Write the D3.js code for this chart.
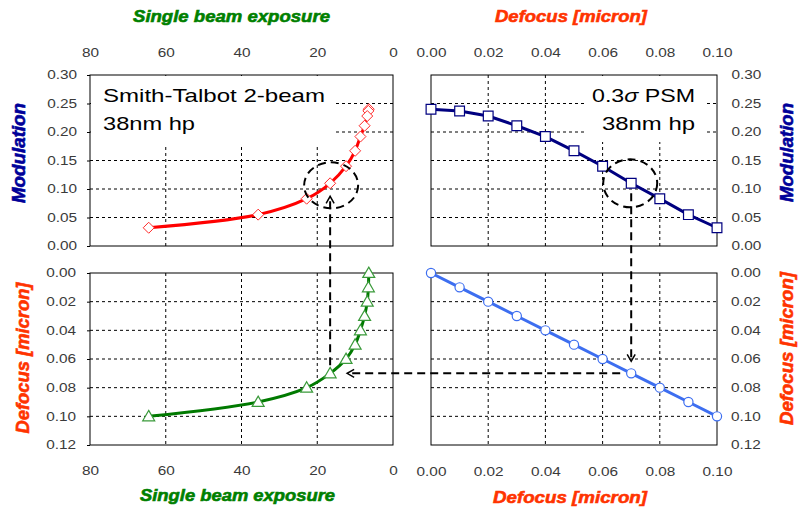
<!DOCTYPE html>
<html>
<head>
<meta charset="utf-8">
<script src="https://cdn.jsdelivr.net/npm/d3@7"></script>
<style>
  body { margin: 0; background: #fff; }
  svg text { font-family: Arial, "Liberation Sans", sans-serif; }
  .tick text { fill: #3a3a3a; font-size: 12px; }
  .tick line { stroke: #000; }
  .grid line { stroke: #000; stroke-width: 1; stroke-dasharray: 3,3; }
  .frame { fill: none; stroke: #000; stroke-width: 1; }
  .title { font-weight: bold; font-style: italic; font-size: 17px; stroke-width: 0.6; }
  .vtitle { font-weight: bold; font-style: italic; font-size: 18px; stroke-width: 0.6; }
  .anno { font-size: 18.5px; fill: #000; }
  .guide { fill: none; stroke: #000; stroke-width: 2; stroke-dasharray: 8,5; }
</style>
</head>
<body>
<svg id="chart" width="798" height="510"></svg>
<script>
// data: one row per defocus step
const defocus = [0, 0.01, 0.02, 0.03, 0.04, 0.05, 0.06, 0.07, 0.08, 0.09, 0.10];
const modulation = [0.240, 0.237, 0.228, 0.211, 0.192, 0.167, 0.140, 0.110, 0.083, 0.055, 0.032];
const exposure = [6.4, 6.5, 6.8, 7.5, 8.6, 10.0, 12.4, 16.6, 22.8, 35.6, 64.5];

const exposureTicks = [80, 60, 40, 20, 0];
const defocusXTicks = [0, 0.02, 0.04, 0.06, 0.08, 0.10];
const defocusYTicks = [0, 0.02, 0.04, 0.06, 0.08, 0.10, 0.12];
const modulationTicks = [0, 0.05, 0.10, 0.15, 0.20, 0.25, 0.30];

const marked = 7; // the 0.07 micron point that the arrows follow

const rows = defocus.map((d, i) => ({def: d, mod: modulation[i], exp: exposure[i]}));

const SX = 1.28; // the source picture is stretched sideways
const svg = d3.select("#chart");

const xExp = d3.scaleLinear().domain([80, 0]).range([90, 393]);
const xDef = d3.scaleLinear().domain([0, 0.1]).range([431, 717]);
const yMod = d3.scaleLinear().domain([0, 0.3]).range([246, 75]);
const yDef = d3.scaleLinear().domain([0, 0.12]).range([273, 445]);

const f2 = d3.format(".2f");

function grid(xs, ys, xVals, yVals) {
  const g = svg.append("g").attr("class", "grid");
  const [x0, x1] = xs.range();
  const [y0, y1] = ys.range();
  g.selectAll(".v").data(xVals).join("line")
    .attr("x1", d => xs(d)).attr("x2", d => xs(d))
    .attr("y1", y0).attr("y2", y1);
  g.selectAll(".h").data(yVals).join("line")
    .attr("x1", x0).attr("x2", x1)
    .attr("y1", d => ys(d)).attr("y2", d => ys(d));
}

function frame(xs, ys) {
  const [x0, x1] = xs.range();
  const [ya, yb] = ys.range();
  svg.append("rect").attr("class", "frame")
    .attr("x", Math.min(x0, x1)).attr("y", Math.min(ya, yb))
    .attr("width", Math.abs(x1 - x0)).attr("height", Math.abs(yb - ya));
}

function axis(ax, tx, ty, dx) {
  const g = svg.append("g").attr("transform", `translate(${tx},${ty})`).call(ax);
  g.select(".domain").remove();
  g.selectAll(".tick text")
    .attr("x", 0)
    .attr("transform", `translate(${dx},0) scale(${SX},1)`);
  return g;
}

function title(x, y, str, len, color) {
  svg.append("text").attr("class", "title")
    .attr("x", x).attr("y", y)
    .attr("text-anchor", "middle")
    .attr("textLength", len).attr("lengthAdjust", "spacingAndGlyphs")
    .attr("fill", color).attr("stroke", color).text(str);
}

function vtitle(x, y, str, len, color) {
  svg.append("text").attr("class", "vtitle")
    .attr("transform", `translate(${x},${y}) rotate(-90)`)
    .attr("text-anchor", "middle")
    .attr("textLength", len).attr("lengthAdjust", "spacingAndGlyphs")
    .attr("fill", color).attr("stroke", color).text(str);
}

function anno(x, y, str, len) {
  return svg.append("text").attr("class", "anno")
    .attr("x", x).attr("y", y)
    .attr("textLength", len).attr("lengthAdjust", "spacingAndGlyphs")
    .text(str);
}

// gridlines
grid(xExp, yMod, [60, 40, 20], [0.05, 0.10, 0.15, 0.20, 0.25]);
grid(xDef, yMod, [0.02, 0.04, 0.06, 0.08], [0.05, 0.10, 0.15, 0.20, 0.25]);
grid(xExp, yDef, [60, 40, 20], [0.02, 0.04, 0.06, 0.08, 0.10]);
grid(xDef, yDef, [0.02, 0.04, 0.06, 0.08], [0.02, 0.04, 0.06, 0.08, 0.10]);

// white boxes behind the two labels
svg.append("rect").attr("x", 91).attr("y", 76).attr("width", 244).attr("height", 71).attr("fill", "#fff");
svg.append("rect").attr("x", 587).attr("y", 76).attr("width", 120).attr("height", 66).attr("fill", "#fff");

frame(xExp, yMod);
frame(xDef, yMod);
frame(xExp, yDef);
frame(xDef, yDef);

// axes
axis(d3.axisTop(xExp).tickValues(exposureTicks).tickFormat(d3.format("d")).tickSize(0).tickPadding(18.5), 0, 75, 0);
axis(d3.axisTop(xDef).tickValues(defocusXTicks).tickFormat(f2).tickSize(0).tickPadding(18.5), 0, 75, 0);
axis(d3.axisBottom(xExp).tickValues(exposureTicks).tickFormat(d3.format("d")).tickSize(0).tickPadding(21.5), 0, 445, 0);
axis(d3.axisBottom(xDef).tickValues(defocusXTicks).tickFormat(f2).tickSize(0).tickPadding(21.5), 0, 446, 0);
axis(d3.axisLeft(yMod).tickValues(modulationTicks).tickFormat(f2).tickSize(3), 90, 0, -13);
axis(d3.axisRight(yMod).tickValues(modulationTicks).tickFormat(f2).tickSize(0), 717, 0, 14.5);
axis(d3.axisLeft(yDef).tickValues(defocusYTicks).tickFormat(f2).tickSize(3), 90, 0, -14);
axis(d3.axisRight(yDef).tickValues(defocusYTicks).tickFormat(f2).tickSize(0), 717, 0, 14);

// titles
title(231.5, 21.5, "Single beam exposure", 197, "#008000");
title(571, 21.5, "Defocus [micron]", 152, "#ff3300");
title(237.5, 501, "Single beam exposure", 195, "#008000");
title(570, 503, "Defocus [micron]", 154, "#ff3300");
vtitle(25, 153, "Modulation", 100, "#000099");
vtitle(793, 152.5, "Modulation", 99, "#000099");
vtitle(28.5, 358, "Defocus [micron]", 151, "#ff3300");
vtitle(793, 348.5, "Defocus [micron]", 153, "#ff3300");

// series lines
const smooth = d3.curveCatmullRom;
function series(xf, yf, color, curve) {
  svg.append("path").datum(rows)
    .attr("fill", "none").attr("stroke", color).attr("stroke-width", 3)
    .attr("stroke-linejoin", "round")
    .attr("d", d3.line().x(xf).y(yf).curve(curve));
}
series(d => xExp(d.exp), d => yMod(d.mod), "#ff0000", smooth);
series(d => xDef(d.def), d => yMod(d.mod), "#000080", d3.curveLinear);
series(d => xExp(d.exp), d => yDef(d.def), "#007a00", smooth);
series(d => xDef(d.def), d => yDef(d.def), "#3d6ef0", d3.curveLinear);

// markers
const diamond = "M0,-5.5L5.5,0L0,5.5L-5.5,0Z";
svg.append("g").selectAll("path").data(rows).join("path")
  .attr("transform", d => `translate(${xExp(d.exp)},${yMod(d.mod)})`)
  .attr("d", diamond).attr("fill", "#fff").attr("stroke", "#ff2a2a").attr("stroke-width", 1);
svg.append("g").selectAll("path").data(rows).join("path")
  .attr("transform", d => `translate(${xDef(d.def)},${yMod(d.mod)})`)
  .attr("d", d3.symbol(d3.symbolSquare, 95)).attr("fill", "#fff").attr("stroke", "#000080").attr("stroke-width", 1.2);
svg.append("g").selectAll("path").data(rows).join("path")
  .attr("transform", d => `translate(${xExp(d.exp)},${yDef(d.def) + 1})`)
  .attr("d", d3.symbol(d3.symbolTriangle, 62)).attr("fill", "#fff").attr("stroke", "#3a9a3a").attr("stroke-width", 1.2);
svg.append("g").selectAll("circle").data(rows).join("circle")
  .attr("cx", d => xDef(d.def)).attr("cy", d => yDef(d.def)).attr("r", 4.6)
  .attr("fill", "#fff").attr("stroke", "#3d6ef0").attr("stroke-width", 1.2);

// labels inside the top panels
anno(103, 102, "Smith-Talbot 2-beam", 222);
anno(103, 130, "38nm hp", 92);
const psm = anno(592, 102, "0.3", 103);
psm.append("tspan").attr("font-style", "italic").text("σ");
psm.append("tspan").text(" PSM");
anno(602, 129.5, "38nm hp", 93);

// dashed guides through the 0.07 micron point
const m = rows[marked];
const xl = xExp(m.exp), xr = xDef(m.def), ym = yMod(m.mod), yd = yDef(m.def);

svg.append("ellipse").attr("class", "guide").attr("stroke-width", 1.5).attr("stroke-dasharray", "8,6")
  .attr("cx", xl + 1).attr("cy", ym + 2).attr("rx", 27).attr("ry", 23);
svg.append("ellipse").attr("class", "guide").attr("stroke-width", 1.5).attr("stroke-dasharray", "8,6")
  .attr("cx", xr - 1).attr("cy", ym).attr("rx", 27).attr("ry", 24);

svg.append("line").attr("class", "guide").attr("x1", xr).attr("x2", xr).attr("y1", ym + 10).attr("y2", yd - 12);
svg.append("line").attr("class", "guide").attr("x1", xr - 11).attr("x2", xl + 17).attr("y1", yd).attr("y2", yd);
svg.append("line").attr("class", "guide").attr("x1", xl).attr("x2", xl).attr("y1", yd - 8).attr("y2", ym + 13);

function head(x, y, dir) {
  // dir: direction the arrow points
  const p = {down: [[-4, -7], [4, -7]], up: [[-4, 7], [4, 7]], left: [[7, -4], [7, 4]]}[dir];
  svg.append("path")
    .attr("d", `M${x + p[0][0]},${y + p[0][1]}L${x},${y}L${x + p[1][0]},${y + p[1][1]}`)
    .attr("fill", "none").attr("stroke", "#000").attr("stroke-width", 1.5);
}
head(xr, yd - 12, "down");
head(xl + 17, yd, "left");
head(xl, ym + 13, "up");
</script>
</body>
</html>
